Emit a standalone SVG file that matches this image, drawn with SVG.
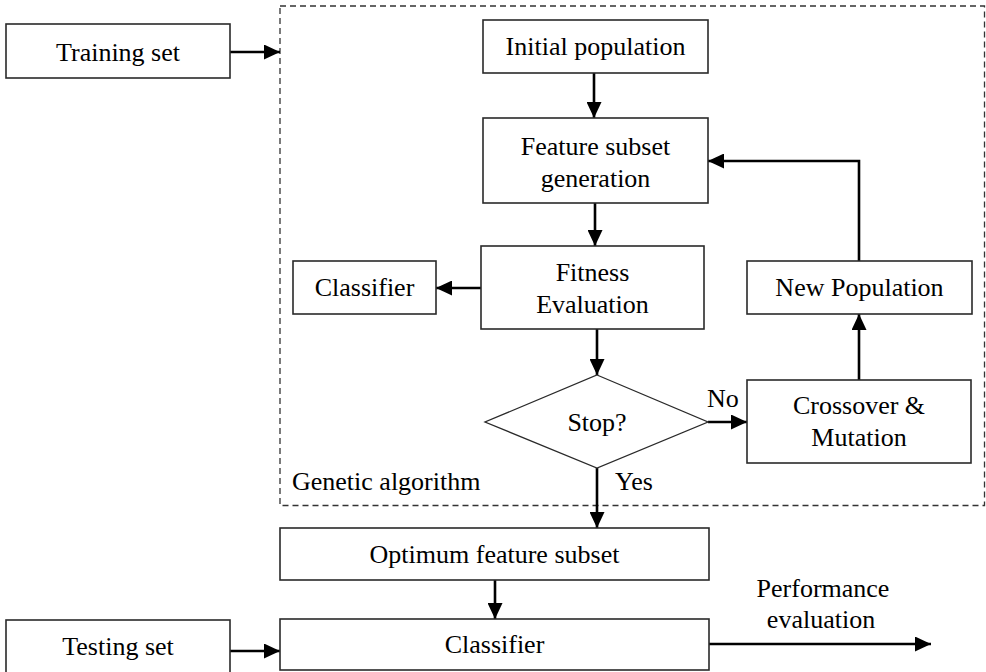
<svg xmlns="http://www.w3.org/2000/svg" width="986" height="672" viewBox="0 0 986 672">
  <style>
    .box { fill: #ffffff; stroke: #2a2a2a; stroke-width: 1.6; }
    .frame { fill: none; stroke: #333333; stroke-width: 1.3; stroke-dasharray: 6 4; }
    .link { fill: none; stroke: #000000; stroke-width: 2.6; }
    .lbl { font-family: "Liberation Serif", "Times New Roman", serif; font-size: 26px; fill: #000000; text-anchor: middle; }
    .lbl-s { font-family: "Liberation Serif", "Times New Roman", serif; font-size: 26px; fill: #000000; text-anchor: start; }
  </style>
  <defs>
    <marker id="arrow" viewBox="0 0 16 15" refX="16" refY="7.5" markerWidth="16" markerHeight="15" markerUnits="userSpaceOnUse" orient="auto">
      <path d="M0,0 L16,7.5 L0,15 Z" fill="#000000"/>
    </marker>
  </defs>
  <rect width="986" height="672" fill="#ffffff"/>

  <!-- Genetic algorithm frame -->
  <g id="ga-frame">
    <rect class="frame" x="280" y="6" width="704.5" height="499.5"/>
    <text class="lbl-s" x="292" y="490">Genetic algorithm</text>
  </g>

  <!-- connectors -->
  <g id="connectors">
    <line class="link" x1="230" y1="52" x2="280" y2="52" marker-end="url(#arrow)"/>
    <line class="link" x1="594" y1="73" x2="594" y2="118" marker-end="url(#arrow)"/>
    <line class="link" x1="595" y1="203" x2="595" y2="246" marker-end="url(#arrow)"/>
    <line class="link" x1="481" y1="288" x2="436" y2="288" marker-end="url(#arrow)"/>
    <line class="link" x1="597" y1="329" x2="597" y2="375" marker-end="url(#arrow)"/>
    <line class="link" x1="708" y1="422" x2="747" y2="422" marker-end="url(#arrow)"/>
    <line class="link" x1="859" y1="380" x2="859" y2="314" marker-end="url(#arrow)"/>
    <polyline class="link" points="859,261 859,161 708,161" marker-end="url(#arrow)"/>
    <line class="link" x1="597" y1="468" x2="597" y2="528" marker-end="url(#arrow)"/>
    <line class="link" x1="495" y1="580" x2="495" y2="619" marker-end="url(#arrow)"/>
    <line class="link" x1="230" y1="651" x2="280" y2="651" marker-end="url(#arrow)"/>
    <line class="link" x1="709" y1="644" x2="931" y2="644" marker-end="url(#arrow)"/>
    <text class="lbl-s" x="707" y="407">No</text>
    <text class="lbl-s" x="615" y="490">Yes</text>
    <text class="lbl" x="823" y="597">Performance</text>
    <text class="lbl" x="821" y="628">evaluation</text>
  </g>

  <g id="training-set">
    <rect class="box" x="6" y="24" width="224" height="54"/>
    <text class="lbl" x="118" y="61">Training set</text>
  </g>

  <g id="initial-population">
    <rect class="box" x="483" y="20" width="225" height="53"/>
    <text class="lbl" x="595.5" y="55">Initial population</text>
  </g>

  <g id="feature-subset-generation">
    <rect class="box" x="483" y="118" width="225" height="85"/>
    <text class="lbl" x="595.5" y="155">Feature subset</text>
    <text class="lbl" x="595.5" y="187">generation</text>
  </g>

  <g id="fitness-evaluation">
    <rect class="box" x="481" y="246" width="223" height="83"/>
    <text class="lbl" x="592.5" y="281">Fitness</text>
    <text class="lbl" x="592.5" y="313">Evaluation</text>
  </g>

  <g id="classifier-inner">
    <rect class="box" x="293" y="261" width="143" height="53"/>
    <text class="lbl" x="364.5" y="296">Classifier</text>
  </g>

  <g id="stop-decision">
    <polygon class="box" points="597,375 708,422 597,468 485,422" style="stroke-width:1.3"/>
    <text class="lbl" x="597" y="431">Stop?</text>
  </g>

  <g id="crossover-mutation">
    <rect class="box" x="747" y="380" width="224" height="83"/>
    <text class="lbl" x="859" y="414">Crossover &amp;</text>
    <text class="lbl" x="859" y="446">Mutation</text>
  </g>

  <g id="new-population">
    <rect class="box" x="747" y="261" width="225" height="53"/>
    <text class="lbl" x="859.5" y="296">New Population</text>
  </g>

  <g id="optimum-feature-subset">
    <rect class="box" x="280" y="528" width="429" height="52"/>
    <text class="lbl" x="494.5" y="563">Optimum feature subset</text>
  </g>

  <g id="testing-set">
    <rect class="box" x="6" y="620" width="224" height="64"/>
    <text class="lbl" x="118" y="655">Testing set</text>
  </g>

  <g id="classifier-final">
    <rect class="box" x="280" y="619" width="429" height="51"/>
    <text class="lbl" x="494.5" y="653">Classifier</text>
  </g>
</svg>
